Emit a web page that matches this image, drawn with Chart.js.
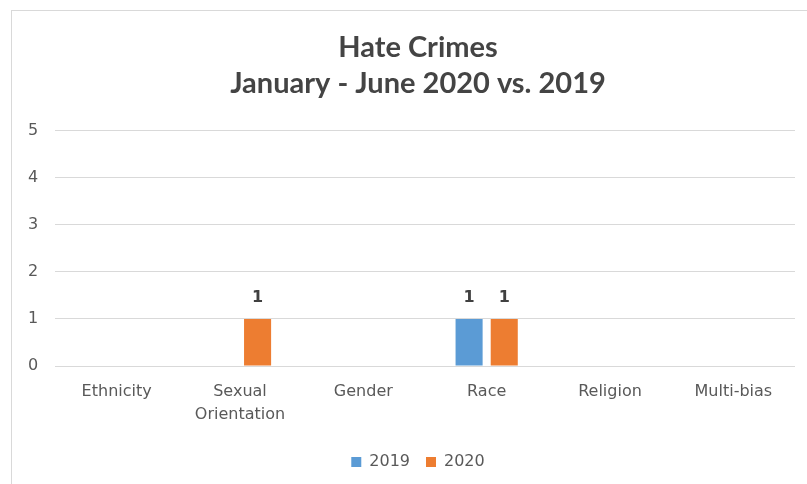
<!DOCTYPE html>
<html>
<head>
<meta charset="utf-8">
<script src="https://cdn.jsdelivr.net/npm/chart.js@4.4.1/dist/chart.umd.min.js"></script>
<style>
  html, body { margin: 0; padding: 0; background: #fff; }
  #wrap { position: relative; width: 807px; height: 484px; overflow: hidden; }
  #frame { position: absolute; left: 11px; top: 10px; width: 820px; height: 500px; border: 1px solid #d9d9d9; box-sizing: border-box; }
  canvas { position: absolute; left: 0; top: 0; }
</style>
</head>
<body>
<div id="wrap">
  <div id="frame"></div>
  <canvas id="hateChart" width="807" height="484"></canvas>
</div>
<script>
const categories = ['Ethnicity', ['Sexual', 'Orientation'], 'Gender', 'Race', 'Religion', 'Multi-bias'];
const values2019 = [0, 0, 0, 1, 0, 0];
const values2020 = [0, 1, 0, 1, 0, 0];
const yMax = 5;

const textGrey = '#595959';

// draws the value above each bar, skips zeros like the original
const barLabels = {
    id: 'barLabels',
    afterDatasetsDraw(chart) {
        const ctx = chart.ctx;
        ctx.save();
        ctx.font = 'bold 16px "DejaVu Sans"';
        ctx.fillStyle = '#404040';
        ctx.textAlign = 'center';
        ctx.textBaseline = 'middle';
        chart.data.datasets.forEach((ds, i) => {
            chart.getDatasetMeta(i).data.forEach((bar, j) => {
                if (!ds.data[j]) return;
                ctx.fillText(ds.data[j], bar.x, bar.y - 21);
            });
        });
        ctx.restore();
    }
};

const hateCtx = document.getElementById('hateChart').getContext('2d');

const hateChart = new Chart(hateCtx, {
    type: 'bar',
    data: {
        labels: categories,
        datasets: [
            { label: '2019', data: values2019, backgroundColor: '#5b9bd5' },
            { label: '2020', data: values2020, backgroundColor: '#ed7d31' }
        ]
    },
    options: {
        responsive: false,
        animation: false,
        categoryPercentage: 0.57,
        barPercentage: 0.77,
        layout: { padding: { left: 41, right: 12, top: 30, bottom: 4 } },
        scales: {
            x: {
                afterFit(scale) { scale.height = 72; },
                grid: { display: false },
                border: { display: false },
                ticks: { color: textGrey, font: { family: 'DejaVu Sans', size: 16, lineHeight: 1.4 }, padding: 7, maxRotation: 0 }
            },
            y: {
                min: 0,
                max: yMax,
                afterFit(scale) { scale.width = 14; },
                grid: { color: '#d9d9d9', drawTicks: false },
                border: { display: false },
                // mirrored so the labels are not clipped to the narrow axis box
                ticks: { stepSize: 1, mirror: true, padding: -27, color: textGrey, font: { family: 'DejaVu Sans', size: 16 } }
            }
        },
        plugins: {
            title: {
                display: true,
                text: ['Hate Crimes', 'January - June 2020 vs. 2019'],
                color: '#444444',
                font: { family: 'Lato', size: 29, weight: 'bold', lineHeight: 1.24 },
                padding: { top: 0, bottom: 29 }
            },
            legend: {
                position: 'bottom',
                labels: {
                    color: textGrey,
                    font: { family: 'DejaVu Sans', size: 16 },
                    boxWidth: 10,
                    boxHeight: 10,
                    padding: 16
                }
            },
            tooltip: { enabled: false }
        }
    },
    plugins: [barLabels]
});
</script>
</body>
</html>
